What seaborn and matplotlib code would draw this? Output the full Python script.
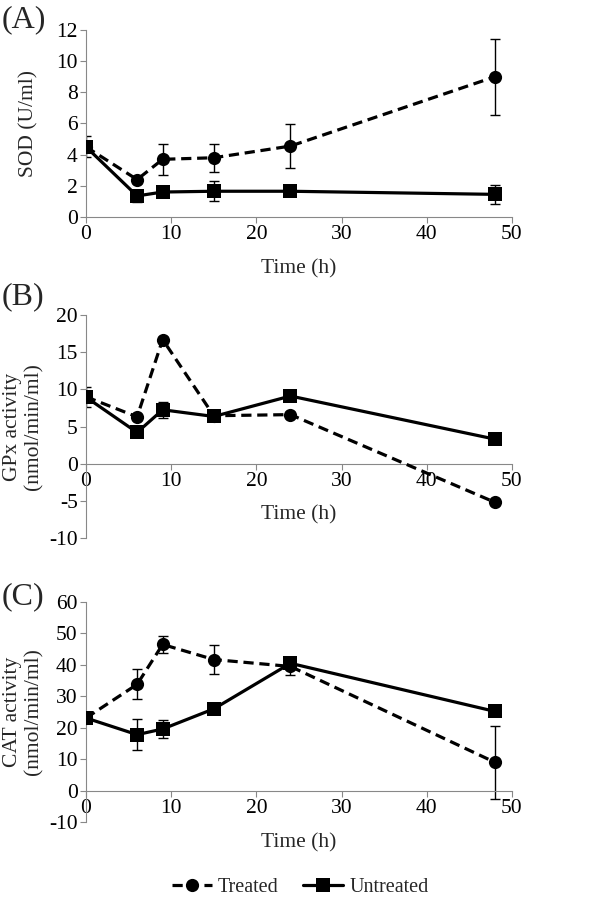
import matplotlib
matplotlib.use("Agg")
import matplotlib.pyplot as plt
from matplotlib.lines import Line2D
import numpy as np
import pandas as pd
import seaborn as sns

sns.set_style("ticks")
plt.rcParams["font.family"] = ["Liberation Serif", "DejaVu Serif"]
plt.rcParams["font.size"] = 15
plt.rcParams["axes.unicode_minus"] = False

time_h = [0, 6, 9, 15, 24, 48]

# (A) SOD
sod_treated = [4.5, 2.4, 3.7, 3.8, 4.55, 9.0]
sod_treated_err = [0.68, 0.2, 1.0, 0.9, 1.4, 2.45]
sod_untreated = [4.5, 1.35, 1.6, 1.65, 1.65, 1.45]
sod_untreated_err = [0.3, 0.4, 0.2, 0.65, 0.1, 0.6]

# (B) GPx
gpx_treated = [9.0, 6.3, 16.7, 6.45, 6.6, -5.2]
gpx_treated_err = [0.3, 0.3, 0.3, 0.3, 0.3, 0.3]
gpx_untreated = [8.95, 4.2, 7.25, 6.35, 9.1, 3.3]
gpx_untreated_err = [1.3, 0.4, 1.1, 0.4, 0.4, 0.3]

# (C) CAT
cat_treated = [23.1, 33.8, 46.5, 41.7, 39.5, 9.0]
cat_treated_err = [1.0, 4.8, 2.7, 4.6, 2.8, 11.6]
cat_untreated = [23.1, 17.8, 19.6, 26.0, 40.5, 25.2]
cat_untreated_err = [1.0, 5.0, 2.8, 1.0, 1.5, 1.0]

panels = [
    ("(A)", "SOD (U/ml)", sod_treated, sod_treated_err, sod_untreated, sod_untreated_err,
     (0, 12), np.arange(0, 13, 2)),
    ("(B)", "GPx activity\n(nmol/min/ml)", gpx_treated, gpx_treated_err, gpx_untreated, gpx_untreated_err,
     (-10, 20), np.arange(-10, 21, 5)),
    ("(C)", "CAT activity\n(nmol/min/ml)", cat_treated, cat_treated_err, cat_untreated, cat_untreated_err,
     (-10, 60), np.arange(-10, 61, 10)),
]

# axes rectangles in figure fraction (left, bottom, width, height)
rects = [
    [0.1433, 0.7584, 0.71, 0.2082],
    [0.1433, 0.4009, 0.71, 0.2483],
    [0.1433, 0.0846, 0.71, 0.2450],
]
xlabel_y = [-0.278, 0.103, -0.095]
ylabel_x = [-0.134, -0.148, -0.148]
letter_y = [1 - 20 / 898, 1 - 297 / 898, 1 - 597 / 898]

spine_col = "#888888"
dash = (0, (3.2, 1.8))
fig = plt.figure(figsize=(6, 8.98), dpi=100)

for i, (letter, ylab, tr, tr_err, un, un_err, ylim, yticks) in enumerate(panels):
    ax = fig.add_axes(rects[i])
    df = pd.DataFrame({
        "time": time_h * 2,
        "value": tr + un,
        "group": ["Treated"] * len(time_h) + ["Untreated"] * len(time_h),
    })
    ax.errorbar(time_h, tr, yerr=tr_err, fmt="none", ecolor="black", elinewidth=1,
                capsize=3.5, capthick=1, zorder=2)
    ax.errorbar(time_h, un, yerr=un_err, fmt="none", ecolor="black", elinewidth=1,
                capsize=3.5, capthick=1, zorder=2)
    sns.lineplot(data=df[df.group == "Treated"], x="time", y="value", ax=ax,
                 color="black", marker="o", markersize=9.5, linewidth=2.3,
                 linestyle=dash, markeredgewidth=0, zorder=3)
    sns.lineplot(data=df[df.group == "Untreated"], x="time", y="value", ax=ax,
                 color="black", marker="s", markersize=9.5, linewidth=2.3,
                 markeredgewidth=0, zorder=4)
    ax.set_xlim(0, 50)
    ax.set_ylim(*ylim)
    ax.set_xticks(np.arange(0, 51, 10))
    ax.set_yticks(yticks)
    ax.spines["top"].set_visible(False)
    ax.spines["right"].set_visible(False)
    ax.spines["left"].set_color(spine_col)
    ax.spines["bottom"].set_color(spine_col)
    ax.spines["bottom"].set_position(("data", 0))
    ax.tick_params(axis="both", colors=spine_col, labelcolor="black", labelsize=15.5,
                   length=4, width=0.8, pad=2)
    ax.set_xlabel("Time (h)", fontsize=15.5)
    ax.xaxis.label.set_va("center")
    ax.xaxis.set_label_coords(0.5, xlabel_y[i])
    ax.set_ylabel(ylab, fontsize=15.5, linespacing=1.15)
    ax.yaxis.label.set_va("center")
    ax.yaxis.set_label_coords(ylabel_x[i], 0.5)
    fig.text(0.003, letter_y[i], letter, fontsize=23, va="center", ha="left")
    if ax.get_legend() is not None:
        ax.get_legend().remove()

handles = [
    Line2D([], [], color="black", linewidth=2.3, linestyle=dash, marker="o",
           markersize=9.5, markeredgewidth=0),
    Line2D([], [], color="black", linewidth=2.3, marker="s", markersize=9.5, markeredgewidth=0),
]
fig.legend(handles, ["Treated", "Untreated"], loc="center", bbox_to_anchor=(0.5, 1 - 887 / 898),
           ncol=2, frameon=False, fontsize=14.5, handlelength=2.0, handletextpad=0.3,
           columnspacing=1.2)

fig.savefig("out.png", dpi=100)
